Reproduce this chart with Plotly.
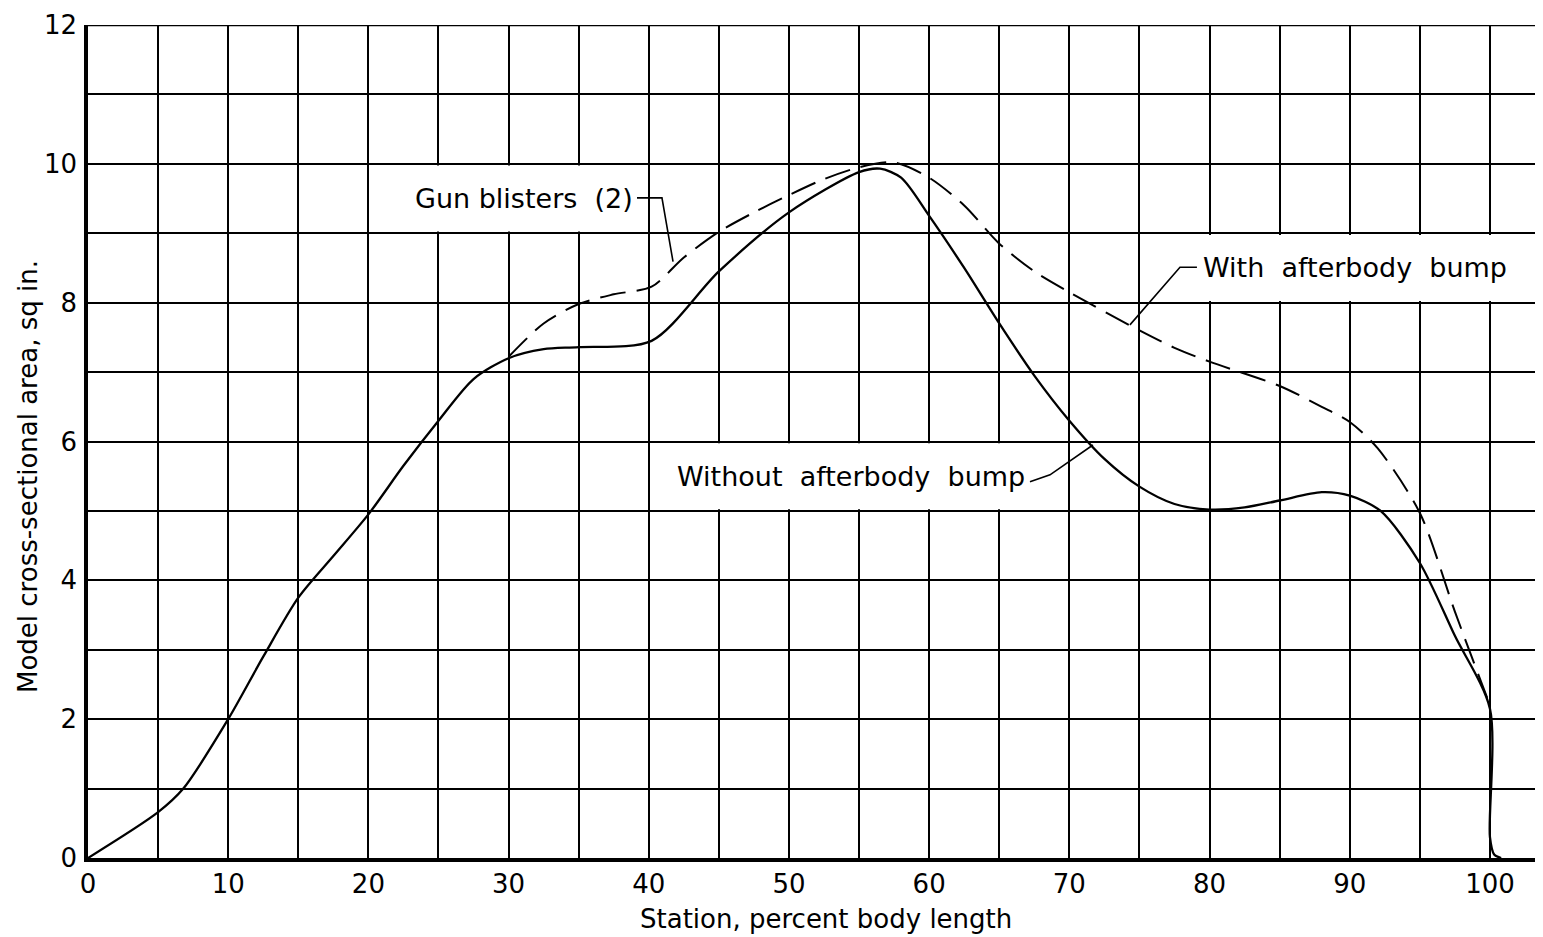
import plotly.graph_objects as go

# ---- data ----
station_without = [0, 5, 6.8, 10, 12.5, 15, 17.5, 20, 22.5, 25, 27.5, 30, 32.5, 35, 40.2,
                   45, 50, 55, 56.5, 58, 60, 62.5, 65, 67.5, 70, 72.5, 75, 77.5, 80,
                   82.5, 85, 88, 90, 92.2, 95, 97.5, 100, 100, 100.3, 100.8]
area_without = [0, 0.66, 1.0, 2.0, 2.9, 3.75, 4.35, 4.95, 5.65, 6.3, 6.9, 7.2, 7.33, 7.36, 7.45,
                8.45, 9.3, 9.88, 9.93, 9.8, 9.25, 8.5, 7.7, 6.95, 6.3, 5.75, 5.35, 5.1, 5.02,
                5.05, 5.15, 5.27, 5.22, 5.0, 4.25, 3.2, 2.15, 0.3, 0.05, 0]

station_with = [30, 32.5, 35, 37.5, 40.2, 42.5, 45, 47.5, 50, 52.5, 55, 57.5, 60, 62.5, 65,
                67.5, 70, 75, 77.5, 80, 85, 88, 90, 92, 95, 97.5, 100]
area_with = [7.22, 7.7, 7.98, 8.12, 8.23, 8.65, 9.02, 9.3, 9.55, 9.78, 9.95, 10.02, 9.8, 9.4, 8.85,
             8.45, 8.15, 7.6, 7.35, 7.15, 6.8, 6.5, 6.28, 5.9, 4.97, 3.55, 2.2]

x_tick_vals = list(range(0, 101, 5))
x_tick_text = [str(v) if v % 10 == 0 else "" for v in x_tick_vals]
y_tick_vals = list(range(0, 13))
y_tick_text = [str(v) if v % 2 == 0 else "" for v in y_tick_vals]

FONT = "DejaVu Sans"
XMAX = 103.57
OFF = 8  # page body margin
W, H = 1543 - OFF, 937 - OFF
L, R, T, B = 88 - OFF, 3, 25 - OFF, 937 - 858
PW, PH = W - L - R, H - T - B


def px_x(page_x):
    return (page_x - OFF - L) / PW


def px_y(page_y):
    return (T + PH - (page_y - OFF)) / PH


fig = go.Figure()
fig.add_trace(go.Scatter(x=station_without, y=area_without, mode="lines",
                         line=dict(color="black", width=2.3, shape="spline", smoothing=0.8),
                         showlegend=False, hoverinfo="skip"))
fig.add_trace(go.Scatter(x=station_with, y=area_with, mode="lines",
                         line=dict(color="black", width=2, dash="26px,11px", shape="spline", smoothing=0.8),
                         showlegend=False, hoverinfo="skip"))

shapes = []
# white label boxes covering grid cells
for (x0, x1, y0, y1) in [(20, 40, 9, 10), (40, 70, 5, 6), (75, XMAX + 1, 8, 9)]:
    shapes.append(dict(type="rect", xref="x", yref="y", x0=x0 + 0.12, x1=x1 - 0.12,
                       y0=y0 + 0.025, y1=y1 - 0.025, fillcolor="white",
                       line=dict(width=0), layer="above"))
# top border line
shapes.append(dict(type="line", xref="paper", yref="y", x0=0, x1=1, y0=12, y1=12,
                   line=dict(color="black", width=2.5), layer="above"))
# leader lines
leaders = [
    "M 39.16 9.51 L 40.94 9.51 L 41.73 8.59",
    "M 79.1 8.51 L 77.89 8.51 L 74.32 7.68",
    "M 67.19 5.42 L 68.62 5.52 L 71.68 5.95",
]
for p in leaders:
    shapes.append(dict(type="path", xref="x", yref="y", path=p,
                       line=dict(color="black", width=1.6), layer="above"))

annotations = [
    dict(x=39.0, y=9.5, xref="x", yref="y", text="Gun blisters  (2)", showarrow=False,
         xanchor="right", yanchor="middle", font=dict(family=FONT, size=27, color="black")),
    dict(x=79.4, y=8.5, xref="x", yref="y", text="With  afterbody  bump", showarrow=False,
         xanchor="left", yanchor="middle", font=dict(family=FONT, size=27, color="black")),
    dict(x=67.0, y=5.5, xref="x", yref="y", text="Without  afterbody  bump", showarrow=False,
         xanchor="right", yanchor="middle", font=dict(family=FONT, size=27, color="black")),
    dict(x=px_x(826), y=px_y(919), xref="paper", yref="paper",
         text="Station, percent body length", showarrow=False,
         xanchor="center", yanchor="middle",
         font=dict(family=FONT, size=26, color="black")),
    dict(x=px_x(28), y=px_y(477), xref="paper", yref="paper",
         text="Model cross-sectional area, sq in.", showarrow=False, textangle=-90,
         xanchor="center", yanchor="middle",
         font=dict(family=FONT, size=26, color="black")),
]

fig.update_layout(
    width=W, height=H,
    margin=dict(l=L, r=R, t=T, b=B, autoexpand=False),
    paper_bgcolor="white", plot_bgcolor="white",
    shapes=shapes, annotations=annotations,
    xaxis=dict(range=[0, XMAX], tickvals=x_tick_vals, ticktext=x_tick_text,
               showgrid=True, gridcolor="black", gridwidth=2,
               showline=True, linecolor="black", linewidth=3.5,
               zeroline=False, ticks="", ticklabelstandoff=0, automargin=False,
               tickfont=dict(family=FONT, size=26, color="black")),
    yaxis=dict(range=[0, 12], tickvals=y_tick_vals, ticktext=y_tick_text,
               showgrid=True, gridcolor="black", gridwidth=2,
               showline=True, linecolor="black", linewidth=3.5,
               zeroline=False, ticks="", ticklabelstandoff=2, automargin=False,
               tickfont=dict(family=FONT, size=26, color="black")),
)

fig.write_html("out.html")
